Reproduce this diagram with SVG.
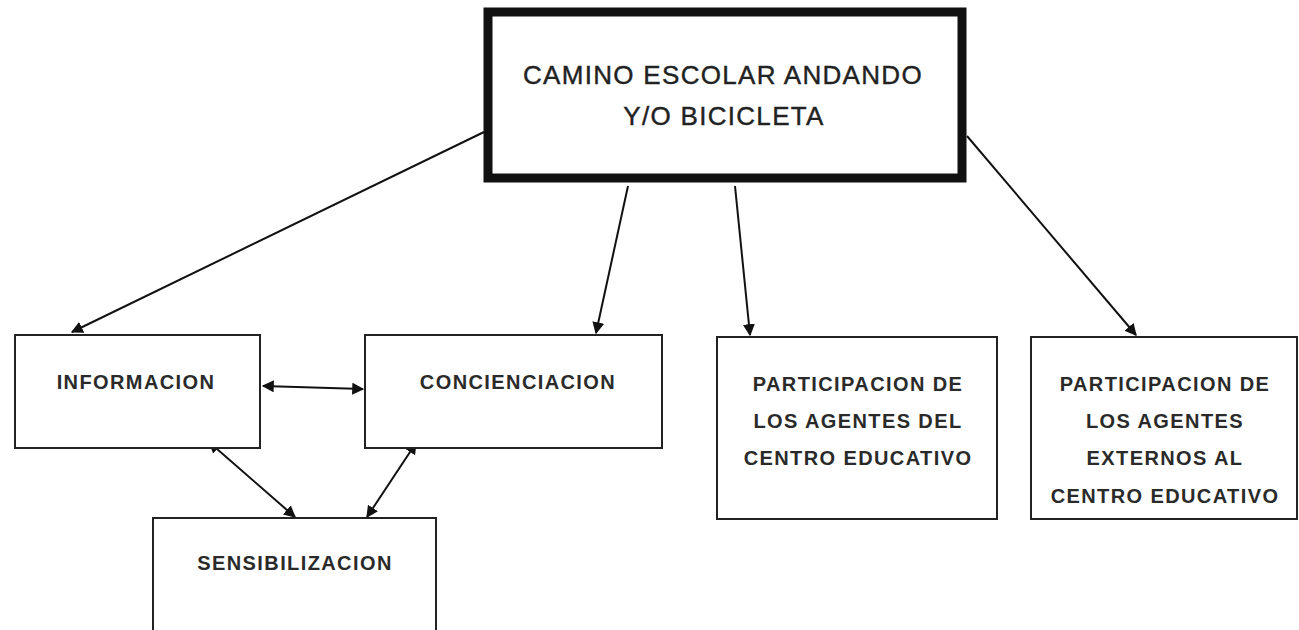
<svg xmlns="http://www.w3.org/2000/svg" width="1299" height="630" viewBox="0 0 1299 630">
<defs>
<marker id="ah" viewBox="0 0 10 10" refX="9" refY="5" markerWidth="12" markerHeight="12" markerUnits="userSpaceOnUse" orient="auto-start-reverse">
<path d="M0,0 L10,5 L0,10 z" fill="#111"/>
</marker>
<style>
.box{fill:#fff;stroke:#222;stroke-width:2}
.t{font-family:"Liberation Sans",Arial,sans-serif;font-weight:bold;font-size:20px;fill:#2a2a2a;text-anchor:middle;letter-spacing:1.4px}
.title{font-family:"Liberation Sans",Arial,sans-serif;font-size:26px;fill:#222;stroke:#222;stroke-width:0.4;text-anchor:middle;letter-spacing:1.3px}
.c{stroke:#111;stroke-width:2;fill:none}
</style>
</defs>
<rect width="1299" height="630" fill="#fff"/>
<g id="connectors">
<line class="c" x1="484" y1="132" x2="72" y2="332" marker-end="url(#ah)"/>
<line class="c" x1="628" y1="186" x2="596" y2="333" marker-end="url(#ah)"/>
<line class="c" x1="735" y1="186" x2="750" y2="335" marker-end="url(#ah)"/>
<line class="c" x1="967" y1="136" x2="1136" y2="335" marker-end="url(#ah)"/>
<line class="c" x1="263" y1="386" x2="363" y2="389" marker-start="url(#ah)" marker-end="url(#ah)"/>
<line class="c" x1="209" y1="442" x2="295" y2="517" marker-start="url(#ah)" marker-end="url(#ah)"/>
<line class="c" x1="416" y1="443" x2="367" y2="517" marker-start="url(#ah)" marker-end="url(#ah)"/>
</g>
<g id="camino">
<rect x="488" y="12" width="474" height="166" fill="#fff" stroke="#111" stroke-width="9"/>
<text class="title" x="723" y="84">CAMINO ESCOLAR ANDANDO</text>
<text class="title" x="724" y="125">Y/O BICICLETA</text>
</g>
<g id="informacion">
<rect class="box" x="15" y="335" width="245" height="113"/>
<text class="t" x="136" y="389">INFORMACION</text>
</g>
<g id="concienciacion">
<rect class="box" x="365" y="335" width="297" height="113"/>
<text class="t" x="518" y="389">CONCIENCIACION</text>
</g>
<g id="sensibilizacion">
<rect class="box" x="153" y="518" width="283" height="120"/>
<text class="t" x="295" y="570">SENSIBILIZACION</text>
</g>
<g id="participacion-del">
<rect class="box" x="717" y="337" width="280" height="182"/>
<text class="t" x="858" y="391">PARTICIPACION DE</text>
<text class="t" x="858" y="428">LOS AGENTES DEL</text>
<text class="t" x="858" y="465">CENTRO EDUCATIVO</text>
</g>
<g id="participacion-externos">
<rect class="box" x="1031" y="337" width="266" height="182"/>
<text class="t" x="1165" y="391">PARTICIPACION DE</text>
<text class="t" x="1165" y="428">LOS AGENTES</text>
<text class="t" x="1165" y="465">EXTERNOS AL</text>
<text class="t" x="1165" y="503">CENTRO EDUCATIVO</text>
</g>
</svg>
